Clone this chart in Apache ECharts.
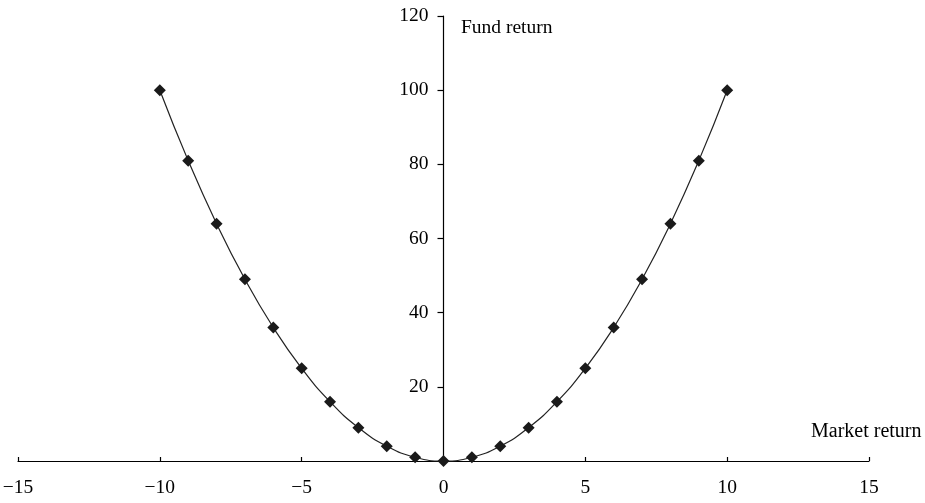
<!DOCTYPE html>
<html>
<head>
<meta charset="utf-8">
<script src="https://cdn.jsdelivr.net/npm/echarts@6/dist/echarts.min.js"></script>
<style>html,body{margin:0;padding:0;background:#fff}#c{width:925px;height:503px}</style>
</head>
<body>
<div id="c"></div>
<script>
var marketReturn = [-10,-9,-8,-7,-6,-5,-4,-3,-2,-1,0,1,2,3,4,5,6,7,8,9,10];
var fundReturn = [100,81,64,49,36,25,16,9,4,1,0,1,4,9,16,25,36,49,64,81,100];
var xAxisTitle = 'Market return';
var yAxisTitle = 'Fund return';

var FONT = '"Liberation Serif","Times New Roman",serif';
var GL = 18, GR = 56, W = 925;
var chart = echarts.init(document.getElementById('c'), null, {renderer:'canvas'});
var data = marketReturn.map(function(x,i){return [x, fundReturn[i]];});
var plotW = W - GL - GR;
chart.setOption({
  animation:false,
  backgroundColor:'#fff',
  grid:{left:GL,right:GR,top:16,bottom:42,containLabel:false,outerBoundsMode:'none'},
  xAxis:{
    type:'value',min:-15,max:15,interval:5,
    axisLine:{onZero:false,lineStyle:{color:'#000',width:1.2}},
    axisTick:{show:true,inside:true,length:4,lineStyle:{color:'#000',width:1.2}},
    axisLabel:{color:'#000',fontFamily:FONT,fontSize:19.5,margin:17,
      formatter:function(v){return String(v).replace('-','\u2212');}},
    splitLine:{show:false}
  },
  yAxis:{
    type:'value',min:0,max:120,interval:20,position:'left',
    offset:-(plotW/2),
    axisLine:{onZero:false,lineStyle:{color:'#000',width:1.2}},
    axisTick:{show:true,length:6,lineStyle:{color:'#000',width:1.2}},
    axisLabel:{color:'#000',fontFamily:FONT,fontSize:19.5,margin:15,showMinLabel:false},
    splitLine:{show:false}
  },
  graphic:[
    {type:'text',left:461,top:18,style:{text:yAxisTitle,font:'19.5px '+FONT,fill:'#000'}},
    {type:'text',left:811,top:422,style:{text:xAxisTitle,font:'20px '+FONT,fill:'#000'}}
  ],
  series:[{
    type:'line',data:data,smooth:true,clip:false,
    symbol:'diamond',symbolSize:12,
    lineStyle:{color:'#222',width:1.2},
    itemStyle:{color:'#1a1a1a'}
  }]
});
</script>
</body>
</html>
